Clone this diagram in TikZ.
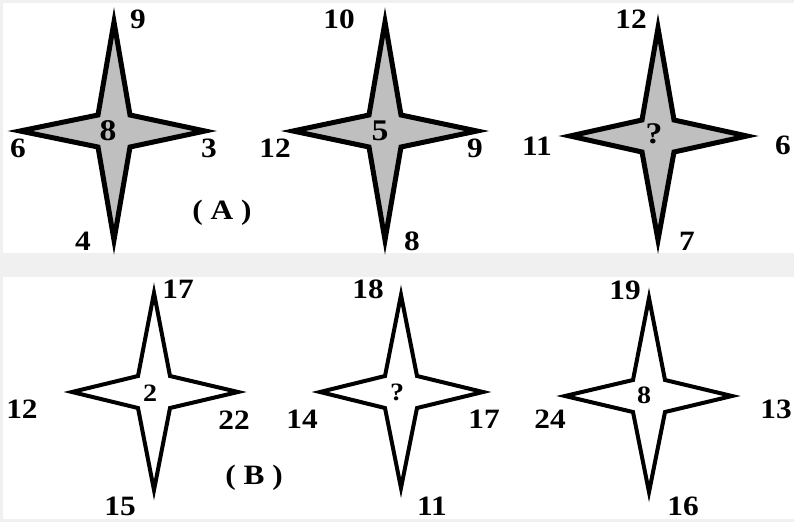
\documentclass[tikz,border=0pt]{standalone}
\usepackage{fontspec}
\setmainfont{Liberation Serif}
\newfontfamily\numfont[FakeStretch=1.12,BoldFont={Liberation Serif Bold}]{Liberation Serif}
\usetikzlibrary{calc}
\tikzset{sa/.style={draw=black,fill=black!25,line width=5pt,miter limit=20},
 sb/.style={draw=black,fill=white,line width=4pt,miter limit=20},
 lbl/.style={font=\numfont\bfseries\fontsize{28}{28}\selectfont,inner sep=0pt},
 mid/.style={font=\numfont\bfseries\fontsize{30}{30}\selectfont,inner sep=0pt},
 midb/.style={font=\numfont\bfseries\fontsize{25}{25}\selectfont,inner sep=0pt}}
% four-pointed star: [style]{name}{cx}{cy}{up}{right}{down}{left}
\newcommand{\fourstar}[8][sa]{%
 \coordinate (#2) at (#3,#4);
 \draw[#1] ($(#2)+(0,{10-#5})$) -- ($(#2)+(16,-16)$) -- ($(#2)+({#6-10},0)$)
  -- ($(#2)+(16,16)$) -- ($(#2)+(0,{#7-10})$) -- ($(#2)+(-16,16)$)
  -- ($(#2)+({10-#8},0)$) -- ($(#2)+(-16,-16)$) -- cycle;}

\begin{document}
\begin{tikzpicture}[x=1pt,y=-1pt]
\useasboundingbox (0,0) rectangle (794,522);
\fill[black!6] (0,0) rectangle (794,522);
\fill[white] (3,3) rectangle (794,253);
\fill[white] (3,277) rectangle (794,519);
% row A
\fourstar{a1}{114}{131}{119}{101}{119}{104}
\fourstar{a2}{385}{131}{119}{102}{119}{102}
\fourstar{a3}{658}{136}{118}{99}{114}{98}
\foreach \n/\x/\y/\t in {a1t/138/19/9,a1l/18/148/6,a1r/209/148/3,a1b/83/241/4,
 a2t/339/19/10,a2l/275/148/12,a2r/475/148/9,a2b/412/241/8,
 a3t/631/19/12,a3l/537/146/11,a3r/783/145/6,a3b/687/241/7}
 {\node[lbl] (\n) at (\x,\y) {\t};}
\node[mid] (a1c) at (108,131) {8};
\node[mid] (a2c) at (380,131) {5};
\node[mid] (a3c) at (654,134) {?};
\node[lbl] (ta) at (222,213) {( A )};
% row B
\fourstar[sb]{b1}{154}{392}{109}{94}{108}{92}
\fourstar[sb]{b2}{401}{392}{107}{92}{106}{91}
\fourstar[sb]{b3}{649}{396}{108}{93}{106}{94}
\foreach \n/\x/\y/\t in {b1t/178/289/17,b1l/22/409/12,b1r/234/420/22,b1b/120/506/15,
 b2t/368/289/18,b2l/302/419/14,b2r/484/419/17,b2b/432/506/11,
 b3t/625/290/19,b3l/550/419/24,b3r/776/409/13,b3b/683/506/16}
 {\node[lbl] (\n) at (\x,\y) {\t};}
\node[midb] (b1c) at (150,393) {2};
\node[midb] (b2c) at (397,392) {?};
\node[midb] (b3c) at (644,395) {8};
\node[lbl] (tb) at (254,478) {( B )};
\end{tikzpicture}
\end{document}
